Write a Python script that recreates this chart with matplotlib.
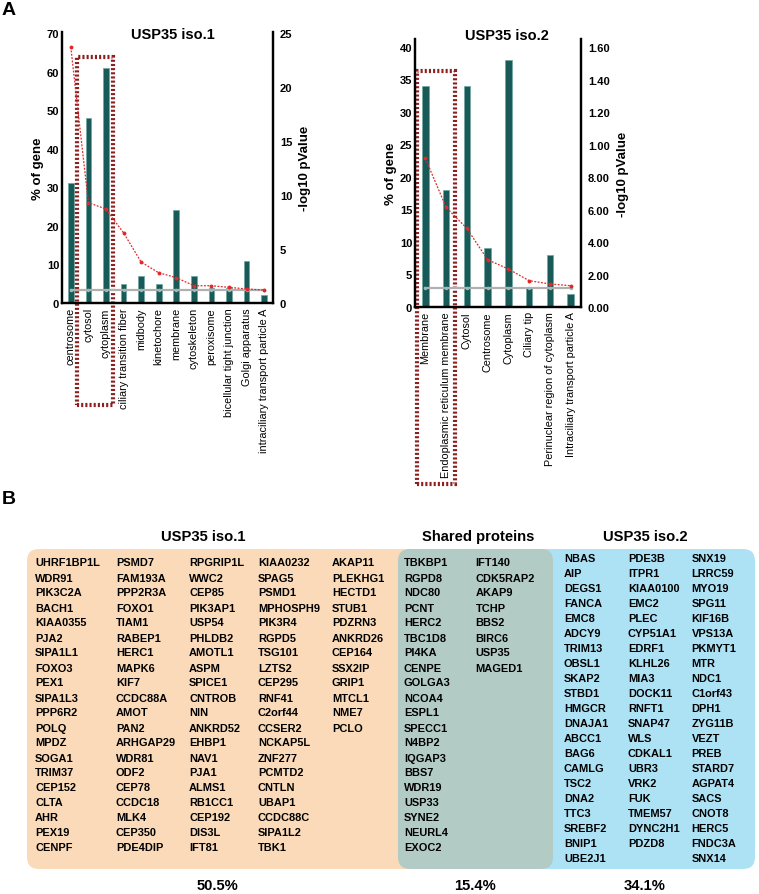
import matplotlib
matplotlib.use('Agg')
import matplotlib.pyplot as plt
from matplotlib.patches import Rectangle, FancyBboxPatch

plt.rcParams['font.family'] = ['Liberation Sans', 'DejaVu Sans']

# ---- panel A data ----
iso1_terms = ['centrosome', 'cytosol', 'cytoplasm', 'ciliary transition fiber', 'midbody',
              'kinetochore', 'membrane', 'cytoskeleton', 'peroxisome',
              'bicellular tight junction', 'Golgi apparatus', 'intraciliary transport particle A']
iso1_pct = [31, 48, 61, 5, 7, 5, 24, 7, 4, 4, 11, 2]
iso1_logp = [23.7, 9.3, 8.7, 6.5, 3.8, 2.8, 2.35, 1.6, 1.6, 1.45, 1.3, 1.2]
iso1_thresh = 1.2

iso2_terms = ['Membrane', 'Endoplasmic reticulum membrane', 'Cytosol', 'Centrosome', 'Cytoplasm',
              'Ciliary tip', 'Perinuclear region of cytoplasm', 'Intraciliary transport particle A']
iso2_pct = [34, 18, 34, 9, 38, 3, 8, 2]
iso2_logp = [9.15, 6.13, 4.84, 2.91, 2.34, 1.62, 1.42, 1.31]
iso2_thresh = 1.2
iso2_right_ticks = [0, 2, 4, 6, 8, 10, 12, 14, 16]
iso2_right_labels = ['0.00', '2.00', '4.00', '6.00', '8.00', '1.00', '1.20', '1.40', '1.60']

# ---- panel B data ----
iso1_only = [
    ['UHRF1BP1L', 'WDR91', 'PIK3C2A', 'BACH1', 'KIAA0355', 'PJA2', 'SIPA1L1', 'FOXO3', 'PEX1',
     'SIPA1L3', 'PPP6R2', 'POLQ', 'MPDZ', 'SOGA1', 'TRIM37', 'CEP152', 'CLTA', 'AHR', 'PEX19', 'CENPF'],
    ['PSMD7', 'FAM193A', 'PPP2R3A', 'FOXO1', 'TIAM1', 'RABEP1', 'HERC1', 'MAPK6', 'KIF7',
     'CCDC88A', 'AMOT', 'PAN2', 'ARHGAP29', 'WDR81', 'ODF2', 'CEP78', 'CCDC18', 'MLK4', 'CEP350', 'PDE4DIP'],
    ['RPGRIP1L', 'WWC2', 'CEP85', 'PIK3AP1', 'USP54', 'PHLDB2', 'AMOTL1', 'ASPM', 'SPICE1',
     'CNTROB', 'NIN', 'ANKRD52', 'EHBP1', 'NAV1', 'PJA1', 'ALMS1', 'RB1CC1', 'CEP192', 'DIS3L', 'IFT81'],
    ['KIAA0232', 'SPAG5', 'PSMD1', 'MPHOSPH9', 'PIK3R4', 'RGPD5', 'TSG101', 'LZTS2', 'CEP295',
     'RNF41', 'C2orf44', 'CCSER2', 'NCKAP5L', 'ZNF277', 'PCMTD2', 'CNTLN', 'UBAP1', 'CCDC88C', 'SIPA1L2', 'TBK1'],
    ['AKAP11', 'PLEKHG1', 'HECTD1', 'STUB1', 'PDZRN3', 'ANKRD26', 'CEP164', 'SSX2IP', 'GRIP1',
     'MTCL1', 'NME7', 'PCLO'],
]
shared = [
    ['TBKBP1', 'RGPD8', 'NDC80', 'PCNT', 'HERC2', 'TBC1D8', 'PI4KA', 'CENPE', 'GOLGA3', 'NCOA4',
     'ESPL1', 'SPECC1', 'N4BP2', 'IQGAP3', 'BBS7', 'WDR19', 'USP33', 'SYNE2', 'NEURL4', 'EXOC2'],
    ['IFT140', 'CDK5RAP2', 'AKAP9', 'TCHP', 'BBS2', 'BIRC6', 'USP35', 'MAGED1'],
]
iso2_only = [
    ['NBAS', 'AIP', 'DEGS1', 'FANCA', 'EMC8', 'ADCY9', 'TRIM13', 'OBSL1', 'SKAP2', 'STBD1', 'HMGCR',
     'DNAJA1', 'ABCC1', 'BAG6', 'CAMLG', 'TSC2', 'DNA2', 'TTC3', 'SREBF2', 'BNIP1', 'UBE2J1'],
    ['PDE3B', 'ITPR1', 'KIAA0100', 'EMC2', 'PLEC', 'CYP51A1', 'EDRF1', 'KLHL26', 'MIA3', 'DOCK11',
     'RNFT1', 'SNAP47', 'WLS', 'CDKAL1', 'UBR3', 'VRK2', 'FUK', 'TMEM57', 'DYNC2H1', 'PDZD8'],
    ['SNX19', 'LRRC59', 'MYO19', 'SPG11', 'KIF16B', 'VPS13A', 'PKMYT1', 'MTR', 'NDC1', 'C1orf43',
     'DPH1', 'ZYG11B', 'VEZT', 'PREB', 'STARD7', 'AGPAT4', 'SACS', 'CNOT8', 'HERC5', 'FNDC3A', 'SNX14'],
]
group_pct = ['50.5%', '15.4%', '34.1%']

W, H = 759, 895
BAR = '#175a58'
BAR_EDGE = '#6fa5a0'
RED = '#e02a2a'
BOX = '#8b2020'


def go_chart(rect, terms, pct, logp, thresh, ylim_l, ylim_r, lticks, rticks, rlabels, box_x, box_y):
    ax = fig.add_axes(rect)
    ax.set_facecolor('none')
    x = list(range(len(terms)))
    ax.bar(x, pct, width=0.32, color=BAR, edgecolor=BAR_EDGE, linewidth=0.5, zorder=2)
    ax.set_xlim(-0.5, len(terms) - 0.5)
    ax.set_ylim(*ylim_l)
    ax.set_yticks(lticks)
    ax.set_xticks(x)
    ax.set_xticklabels(terms, rotation=90, fontsize=7.8, va='top')
    ax.tick_params(length=0)
    ax.tick_params(axis='y', pad=2, labelsize=8)
    ax.tick_params(axis='x', pad=3)
    for t in ax.get_yticklabels():
        t.set_fontweight('bold')
    for s in ['left', 'right', 'bottom']:
        ax.spines[s].set_linewidth(1.6)
    ax.spines['top'].set_visible(False)
    ax.set_ylabel('% of gene', fontsize=9.5, fontweight='bold', labelpad=2)

    ax2 = ax.twinx()
    ax2.set_ylim(*ylim_r)
    ax2.plot(x, [thresh] * len(x), color='#b0b0b0', lw=1.6, marker='o', ms=1.5,
             mfc='#9ab8b5', mec='#9ab8b5', zorder=3)
    ax2.plot(x, logp, color=RED, lw=0.9, ls=(0, (1.5, 1.2)), marker='o', ms=1.8, zorder=4)
    ax2.set_yticks(rticks)
    if rlabels is not None:
        ax2.set_yticklabels(rlabels)
    ax2.tick_params(length=0, pad=5, labelsize=8)
    for t in ax2.get_yticklabels():
        t.set_fontweight('bold')
    for s in ['left', 'right', 'bottom']:
        ax2.spines[s].set_linewidth(1.6)
    ax2.spines['top'].set_visible(False)
    ax2.set_ylabel('-log10 pValue', fontsize=9.5, fontweight='bold', labelpad=5)

    # highlighted terms
    ax.add_patch(Rectangle((box_x[0], box_y[0]), box_x[1] - box_x[0], box_y[1] - box_y[0],
                           fill=False, edgecolor=BOX, lw=3, ls=(0, (0.5, 0.5)),
                           clip_on=False, zorder=5))
    return ax


fig = plt.figure(figsize=(W / 100, H / 100), dpi=100)

go_chart([62 / W, 1 - 304 / H, 211 / W, 271 / H], iso1_terms, iso1_pct, iso1_logp, iso1_thresh,
         (0, 70.3), (0, 25.1), range(0, 71, 10), range(0, 26, 5), None,
         (0.37, 2.4), (-26.5, 63.8))
go_chart([415 / W, 1 - 308 / H, 166 / W, 268 / H], iso2_terms, iso2_pct, iso2_logp, iso2_thresh,
         (0, 41.2), (0, 16.5), range(0, 41, 5), iso2_right_ticks, iso2_right_labels,
         (-0.42, 1.41), (-27.2, 36.3))

# ---- panel B (and titles), drawn in pixel coordinates ----
axb = fig.add_axes([0, 0, 1, 1], zorder=-1)
axb.set_xlim(0, W)
axb.set_ylim(H, 0)
axb.axis('off')

axb.text(2, 10, 'A', fontsize=14, fontweight='bold', va='center', ha='left')
axb.text(2, 500, 'B', fontsize=14, fontweight='bold', va='center', ha='left')
axb.text(173, 34.5, 'USP35 iso.1', fontsize=10.5, fontweight='bold', ha='center', va='center')
axb.text(507, 36, 'USP35 iso.2', fontsize=10.5, fontweight='bold', ha='center', va='center')

axb.add_patch(FancyBboxPatch((27 + 12, 550 + 12), 470 - 24, 320 - 24,
                             boxstyle='round,pad=12', fc='#fadab8', ec='none'))
axb.add_patch(FancyBboxPatch((470 + 12, 550 + 12), 285 - 24, 320 - 24,
                             boxstyle='round,pad=12', fc='#ade2f5', ec='none'))
axb.add_patch(FancyBboxPatch((398 + 12, 550 + 12), 155 - 24, 320 - 24,
                             boxstyle='round,pad=12', fc='#b3cbc5', ec='none'))

for xc, name in zip([203, 478, 645], ['USP35 iso.1', 'Shared proteins', 'USP35 iso.2']):
    axb.text(xc, 537, name, fontsize=10.6, fontweight='bold', ha='center', va='center')
for xc, p in zip([217, 475, 645], group_pct):
    axb.text(xc, 886, p, fontsize=10.6, fontweight='bold', ha='center', va='center')


def gene_cols(cols, xs, y0, dy=15.0):
    for col, xl in zip(cols, xs):
        for i, g in enumerate(col):
            axb.text(xl, y0 + i * dy, g, fontsize=7.9, fontweight='bold', ha='left', va='center')


gene_cols(iso1_only, [35, 116, 189, 258, 332], 563.5)
gene_cols(shared, [404, 475.5], 563.5)
gene_cols(iso2_only, [564, 628, 691.5], 559)

fig.savefig('out.png', dpi=100)
